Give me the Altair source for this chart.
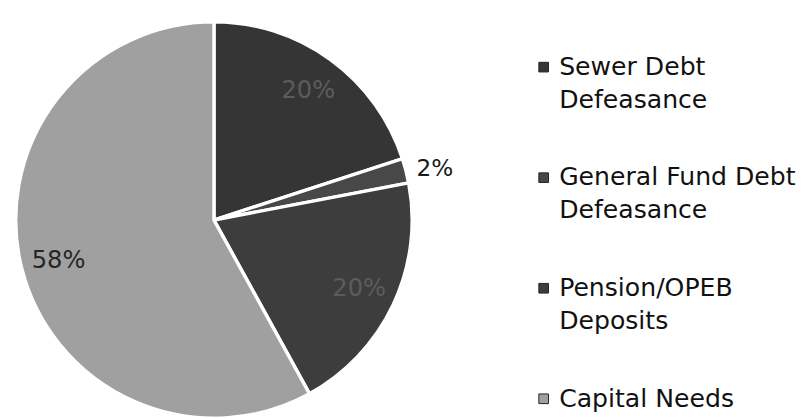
import altair as alt
import pandas as pd

categories = ["Sewer Debt Defeasance", "General Fund Debt Defeasance",
              "Pension/OPEB Deposits", "Capital Needs"]
values = [20, 2, 20, 58]
legend_labels = ["Sewer Debt\nDefeasance", "General Fund Debt\nDefeasance",
                 "Pension/OPEB\nDeposits", "Capital Needs"]
colors = ["#353535", "#484848", "#3d3d3d", "#a0a0a0"]

df = pd.DataFrame({
    "category": categories,
    "value": values,
    "order": list(range(len(categories))),
    "legend": legend_labels,
})

FONT = "DejaVu Sans"
color_scale = alt.Scale(domain=categories, range=colors)
theta_scale = alt.Scale(domain=[0, 100])

base = alt.Chart(df).transform_window(
    cum="sum(value)", sort=[alt.SortField("order")], frame=[None, 0]
).transform_calculate(
    start="datum.cum - datum.value",
    mid="datum.cum - datum.value / 2",
    label="datum.value + '%'",
)

arcs = base.mark_arc(outerRadius=205, stroke="white", strokeWidth=3.5).encode(
    theta=alt.Theta("start:Q", scale=theta_scale),
    theta2="cum:Q",
    color=alt.Color("category:N", scale=color_scale, legend=None),
)

inside = base.transform_filter("datum.value >= 5").mark_text(
    radius=166, font=FONT, fontSize=25
).encode(
    theta=alt.Theta("mid:Q", scale=theta_scale),
    text="label:N",
    color=alt.condition("datum.value < 50", alt.value("#5c5c5c"), alt.value("#262626")),
)

outside = base.transform_filter("datum.value < 5").mark_text(
    radius=236, dy=6, font=FONT, fontSize=24, color="#1a1a1a"
).encode(
    theta=alt.Theta("mid:Q", scale=theta_scale),
    text="label:N",
)

pie = alt.layer(arcs, inside, outside).properties(width=426, height=410)

leg_y = alt.Y("category:N", sort=categories, axis=None,
              scale=alt.Scale(domain=categories, padding=0.293, align=0.7))

leg_sq = alt.Chart(df).mark_square(size=100, stroke="#222", strokeWidth=1, opacity=1).encode(
    x=alt.value(93),
    y=leg_y,
    color=alt.Color("category:N", scale=color_scale, legend=None),
)

leg_txt = alt.Chart(df).mark_text(
    align="left", baseline="middle", lineBreak="\n", lineHeight=34,
    font=FONT, fontSize=26, color="#111111"
).encode(
    x=alt.value(109),
    y=leg_y,
    text="legend:N",
)

legend = alt.layer(leg_sq, leg_txt).properties(width=355, height=410)

chart = alt.hconcat(pie, legend, spacing=0).properties(padding=0).configure_view(stroke=None)

chart.save("out.html", embed_options={"renderer": "svg", "actions": False})
